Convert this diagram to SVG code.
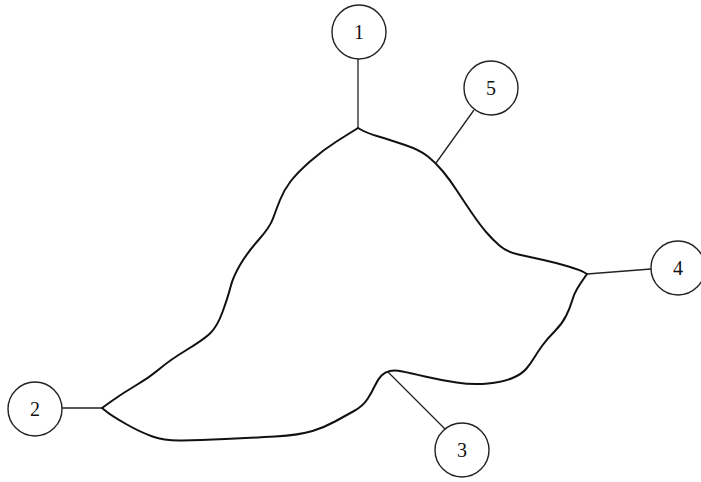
<svg xmlns="http://www.w3.org/2000/svg" width="701" height="482" viewBox="0 0 701 482">
<style>
.node circle{fill:#fff;stroke:#222;stroke-width:1.4}
.node text{font-family:"Liberation Serif","DejaVu Serif",serif;font-size:20px;fill:#111;text-anchor:middle;dominant-baseline:central}
.loop{fill:none;stroke:#111;stroke-width:2;stroke-linecap:round;stroke-linejoin:round}
.link{fill:none;stroke:#222;stroke-width:1.3}
</style>
<rect width="701" height="482" fill="#fff"/>
<g id="connectors">
<path class="loop" d="M358,128 L354,130.5 Q350,133 336.5,141.5 Q323,150 310,161.5 Q297,173 290.5,181.5 Q284,190 280,200 Q276,210 273,218.5 Q270,227 258.5,240 Q247,253 240,265 Q233,277 230.5,287 Q228,297 222.5,312 Q217,327 210,333.5 Q203,340 186.5,350 Q170,360 160,368.5 Q150,377 136.5,385 Q123,393 112.5,400.5 L102,408"/>
<path class="loop" d="M102,408 L107,412 Q112,416 126,424 Q140,432 152.5,436.5 Q165,441 182.5,440.5 Q200,440 225,439 Q250,438 275,436.5 Q300,435 312.5,431 Q325,427 335,421.5 Q345,416 354,411 Q363,406 367.5,399 Q372,392 375,385.5 Q378,379 381.5,375.5 Q385,372 390,371 Q395,370 402.5,371.5 Q410,373 425,376.5 Q440,380 456.5,382.5 Q473,385 488,383.5 Q503,382 512.5,378 Q522,374 526.5,368.5 Q531,363 534,358 Q537,353 542,346 Q547,339 554.5,331.5 Q562,324 566,316 Q570,308 572,301 Q574,294 577,289 Q580,284 583.5,279 L587,274"/>
<path class="loop" d="M587,274 L583.5,272 Q580,270 568.5,266.5 Q557,263 543.5,260 Q530,257 518.5,254.5 Q507,252 500,246 Q493,240 486.5,232.5 Q480,225 471.5,212.5 Q463,200 456.5,190 Q450,180 443,171.5 Q436,163 428,156.5 Q420,150 405,145 Q390,140 378.5,136.5 Q367,133 362.5,130.5 L358,128"/>
<line class="link" x1="358" y1="59" x2="358" y2="128"/>
<line class="link" x1="474" y1="110" x2="436" y2="163"/>
<line class="link" x1="651" y1="269" x2="587" y2="274"/>
<line class="link" x1="445" y1="429" x2="388" y2="372"/>
<line class="link" x1="62" y1="408" x2="102" y2="408"/>
</g>
<g id="node1" class="node"><circle cx="359" cy="32" r="27"/><text x="359" y="32">1</text></g>
<g id="node2" class="node"><circle cx="35" cy="409" r="27"/><text x="35" y="409">2</text></g>
<g id="node3" class="node"><circle cx="462" cy="450" r="27"/><text x="462" y="450">3</text></g>
<g id="node4" class="node"><circle cx="678" cy="268" r="27"/><text x="678" y="268">4</text></g>
<g id="node5" class="node"><circle cx="491" cy="88" r="27"/><text x="491" y="88">5</text></g>
</svg>
